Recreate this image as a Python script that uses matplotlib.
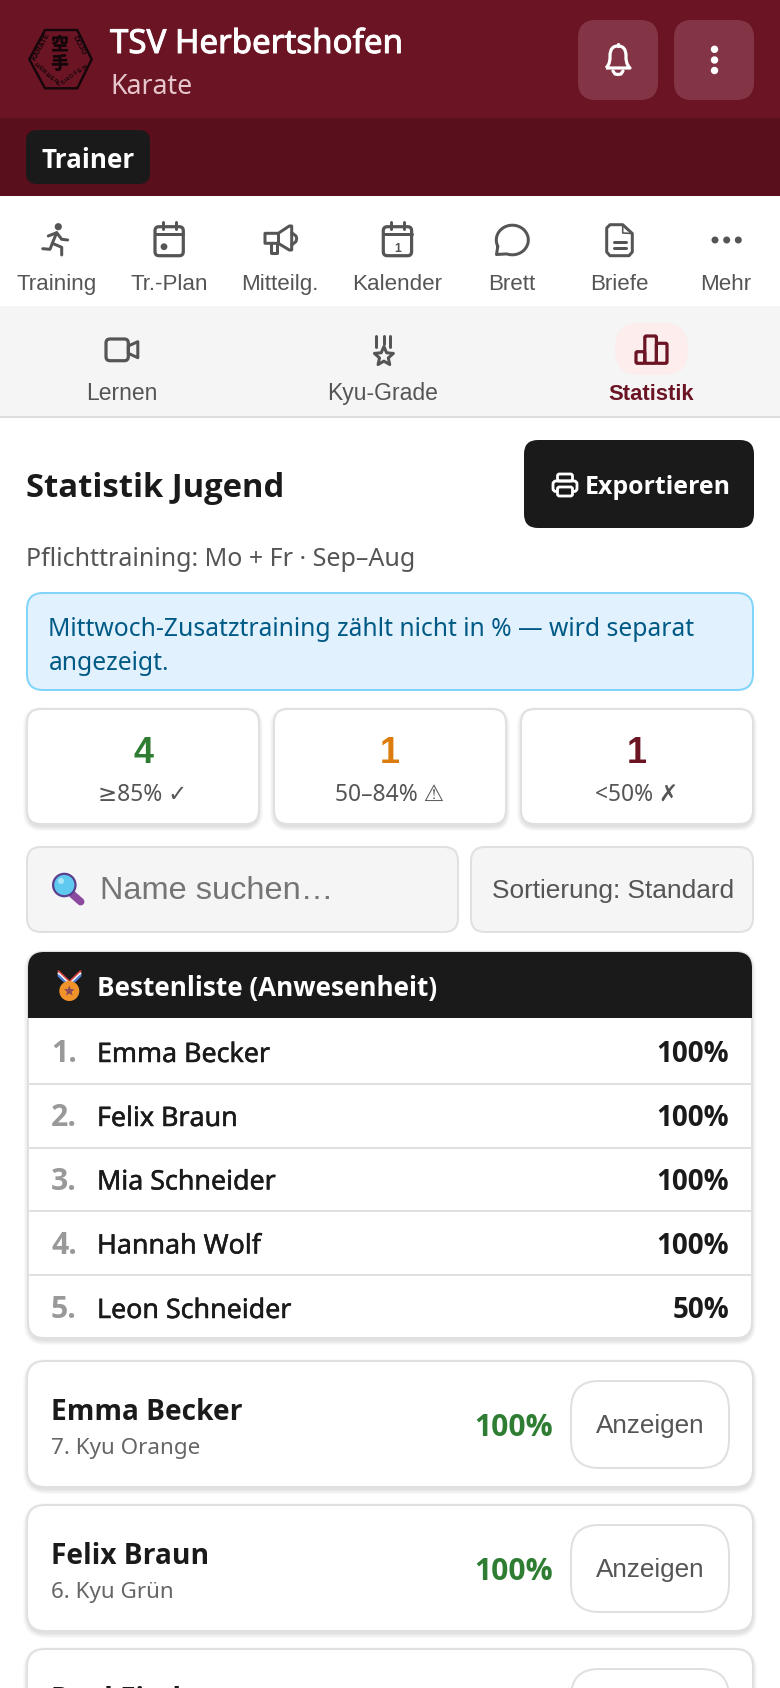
"""Statistik Jugend screen, drawn in pixel coordinates of the 780x1688 screenshot."""
import matplotlib
matplotlib.use("Agg")
import matplotlib.patheffects as pe
import matplotlib.pyplot as plt
import numpy as np
from matplotlib.font_manager import FontProperties
from matplotlib.patches import Circle, FancyBboxPatch, PathPatch, Polygon, Rectangle
from matplotlib.path import Path
from matplotlib.textpath import TextPath

W, H = 780, 1688
SEGOE = ["Noto Sans", "DejaVu Sans"]
SEGOE_B = ["Open Sans", "DejaVu Sans"]
ARIAL = ["Liberation Sans", "DejaVu Sans"]
MAROON = "#6b1524"
GREEN = "#2e7d32"
ORANGE = "#dc7c0c"
INK = "#1a1a1a"
GREY = "#555555"
LINE = "#e0e0e0"
LOGO = "#14060a"

NAV_LABELS = ["Training", "Tr.-Plan", "Mitteilg.", "Kalender", "Brett", "Briefe", "Mehr"]
SUB_LABELS = ["Lernen", "Kyu-Grade", "Statistik"]
STAT_VALUES = ["4", "1", "1"]
STAT_LABELS = ["≥85% ✓", "50–84% ⚠", "<50% ✗"]
STAT_COLORS = [GREEN, ORANGE, MAROON]
BEST_NAMES = ["Emma Becker", "Felix Braun", "Mia Schneider", "Hannah Wolf", "Leon Schneider"]
BEST_PCT = [100, 100, 100, 100, 50]
MEMBER_NAMES = ["Emma Becker", "Felix Braun", "Paul Fischer"]
MEMBER_GRADES = ["7. Kyu Orange", "6. Kyu Grün", ""]
MEMBER_PCT = [100, 100, None]

fig = plt.figure(figsize=(W / 100, H / 100), dpi=100, facecolor="white")
ax = fig.add_axes([0, 0, 1, 1])
ax.set_xlim(0, W)
ax.set_ylim(H, 0)
ax.axis("off")


def px_for(s, family, weight, width):
    """Font size in px that makes s come out width px wide."""
    fp = FontProperties(family=family, weight=weight, size=100)
    return 100 * width / TextPath((0, 0), s, prop=fp).get_extents().width


def txt(x, y, s, px, color=INK, family=SEGOE, weight="normal", ha="left", heavier=0, **kw):
    t = ax.text(x, y, s, fontsize=px * 0.72, color=color, family=family, weight=weight,
                ha=ha, va="baseline", **kw)
    if heavier:
        # no medium cut installed, thicken the regular one a little
        t.set_path_effects([pe.withStroke(linewidth=heavier, foreground=color)])
    return t


def box(x0, y0, x1, y1, r, fc, ec="none", lw=0, z=1):
    p = FancyBboxPatch((x0, y0), x1 - x0, y1 - y0, boxstyle=f"round,pad=0,rounding_size={r}",
                       fc=fc, ec=ec, lw=lw * 0.72, zorder=z)
    ax.add_patch(p)
    return p


def card(x0, y0, x1, y1, r, fc="white", ec=LINE, lw=2):
    for grow in (5, 4, 3, 2, 1):
        box(x0 - grow + 1, y0 + 3 - grow, x1 + grow - 1, y1 + 2 + grow, r + grow, "black", z=0.5).set_alpha(0.022)
    box(x0, y0, x1, y1, r, fc, ec, lw)


def stroke(pts, color=GREY, lw=3, closed=False, fill="none", z=3):
    pts = np.asarray(pts, dtype=float)
    if closed:
        p = Polygon(pts, closed=True, fc=fill, ec=color, lw=lw * 0.72, joinstyle="round", zorder=z)
        ax.add_patch(p)
    else:
        ax.plot(pts[:, 0], pts[:, 1], color=color, lw=lw * 0.72, solid_capstyle="round",
                solid_joinstyle="round", zorder=z)


def dot(x, y, r, color=GREY, z=3):
    ax.add_patch(Circle((x, y), r, fc=color, ec="none", zorder=z))


def star(cx, cy, ro, ri):
    a = np.deg2rad(np.arange(10) * 36 - 90)
    rad = np.where(np.arange(10) % 2 == 0, ro, ri)
    return np.column_stack([cx + rad * np.cos(a), cy + rad * np.sin(a)])


def calendar(dx):
    box(155 + dx, 226.7, 183.3 + dx, 255.7, 4, "none", GREY, 3.2, z=3)
    stroke([(155 + dx, 234), (183.3 + dx, 234)])
    stroke([(162.7 + dx, 222), (162.7 + dx, 229)])
    stroke([(175.7 + dx, 222), (175.7 + dx, 229)])


# header bands
ax.add_patch(Rectangle((0, 0), W, 118, fc=MAROON, ec="none"))
ax.add_patch(Rectangle((0, 118), W, 78, fc="#5a0f1c", ec="none"))
ax.add_patch(Rectangle((0, 306), W, 110, fc="#f5f5f5", ec="none"))
ax.add_patch(Rectangle((0, 416), W, 2, fc="#dddddd", ec="none"))

# logo
stroke([(45, 30), (77.3, 30), (91.7, 59.3), (77.3, 88.3), (45, 88.3), (29.3, 59.3)],
       color=LOGO, lw=2.4, closed=True)
for ch, yy in (("空", 45), ("手", 64)):
    t = ax.text(60, yy, ch, fontsize=12.5, color=LOGO, family=["Noto Sans CJK JP"], weight="bold",
                ha="center", va="center")
    t.set_path_effects([pe.withStroke(linewidth=0.4, foreground=LOGO)])
for s, xy, rot in (("KARATE", (41, 47), 62), ("DOJO", (79, 46), -62)):
    ax.text(xy[0], xy[1], s, fontsize=5.4, color=LOGO, family=ARIAL, weight="bold",
            rotation=rot, ha="center", va="center", rotation_mode="anchor")
letters = "HERBERTSHOFEN"
for k, ch in enumerate(letters):
    t = k / (len(letters) - 1)
    if t < 0.5:
        xy = (36 + (59 - 36) * t * 2, 65 + (85 - 65) * t * 2)
        rot = -42
    else:
        xy = (59 + (85 - 59) * (t - 0.5) * 2, 85 + (67 - 85) * (t - 0.5) * 2)
        rot = 40
    ax.text(xy[0], xy[1], ch, fontsize=4.6, color=LOGO, family=ARIAL, weight="bold",
            rotation=rot, ha="center", va="center")

txt(110, 53, "TSV Herbertshofen", px_for("TSV Herbertshofen", SEGOE, "normal", 290), "white", heavier=0.7)
txt(110, 94, "Karate", px_for("Karate", SEGOE, "normal", 78), "#e6c6cc")

# header buttons
box(578, 20, 658, 100, 18, "#843545")
box(674, 20, 754, 100, 18, "#843545")
bell = Path([(606, 68), (610, 64), (610, 60), (610, 56), (610, 49), (613, 46), (618, 46),
             (623, 46), (626, 49), (626, 56), (626, 60), (626, 64), (630, 68), (606, 68)],
            [1, 4, 4, 4, 4, 4, 4, 4, 4, 4, 4, 4, 4, 2])
ax.add_patch(PathPatch(bell, fc="none", ec="white", lw=3.2 * 0.72, joinstyle="round", zorder=3))
stroke([(618, 44), (618, 46)], "white", 3.2)
stroke([(613, 71), (615, 74), (618, 74.5), (621, 74), (623, 71)], "white", 3.2)
for yy in (49.3, 60, 70.5):
    dot(714.5, yy, 3.7, "white")

# role chip
box(26, 130, 150, 184, 11, INK)
txt(42, 167.7, "Trainer", px_for("Trainer", SEGOE_B, "bold", 92), "white", SEGOE_B, "bold")

# main nav
nav_x = [57, 169, 280, 397, 512, 619, 726]
nav_px = px_for("Training", ARIAL, "normal", 78)
for x, s in zip(nav_x, NAV_LABELS):
    txt(x, 290, s, nav_px, GREY, ARIAL, ha="center")

# runner
dot(58.3, 226.7, 3.6)
stroke([(48.3, 236), (56.7, 232.7), (61.7, 239.3), (67.7, 240)])
stroke([(56.7, 232.7), (52.3, 243.3), (61.7, 247.3), (61.7, 255)])
stroke([(52.3, 243.3), (50, 249.3), (42.7, 248.7)])
calendar(0)
dot(164, 246.7, 3.4)
# megaphone
stroke([(265, 233.3), (278.3, 233.3), (289.3, 226), (291.7, 226), (291.7, 250), (289.3, 250),
        (278.3, 243.3), (265, 243.3)], closed=True)
stroke([(278.3, 233.3), (278.3, 243.3)])
stroke([(270.7, 243.3), (270.7, 253.3), (277.3, 253.3), (277.3, 244)])
stroke([(291.7, 232.7), (296, 236), (296.7, 238.5), (296, 241.5), (291.7, 245)])
calendar(228.3)
txt(397.5, 252, "1", 12, GREY, ARIAL, "bold", ha="center")
# chat bubble
ang = np.deg2rad(np.linspace(155, 470, 60))
bubble = np.column_stack([512.3 + 16 * np.cos(ang), 240 + 14.8 * np.sin(ang)])
stroke(np.vstack([bubble, [(496.5, 254.5)], bubble[:1]]))
# document
stroke([(610, 224.7), (622.7, 224.7), (632.3, 233.5), (632.3, 252), (629, 255.7), (610, 255.7),
        (606.7, 252), (606.7, 228)], closed=True)
stroke([(622.7, 225), (622.7, 233), (632, 233.5)], lw=1.6)
stroke([(613.5, 242.3), (626, 242.3)])
stroke([(613.5, 247.7), (626, 247.7)])
for x in (715, 726.7, 738.3):
    dot(x, 240, 3.5)

# sub nav
box(615, 323, 688, 375, 24, "#fdeded")
sub_x = [122, 383, 651]
sub_px = px_for("Lernen", ARIAL, "normal", 68)
for x, s in zip(sub_x, SUB_LABELS):
    if s == "Statistik":
        txt(x, 400, s, px_for(s, ARIAL, "bold", 85), MAROON, ARIAL, "bold", ha="center")
    else:
        txt(x, 400, s, sub_px, GREY, ARIAL, ha="center")
box(106, 339, 128.3, 360.7, 4, "none", GREY, 3.2, z=3)
stroke([(128.3, 346), (137.8, 341.7), (137.8, 357.7), (128.3, 353.3)], closed=True)
for x, y1 in ((376.3, 346.7), (383.9, 343.5), (390.4, 346.7)):
    stroke([(x, 336), (x, y1)])
stroke(star(383.9, 356.5, 10, 4.6), closed=True)
for x0, y0, x1 in ((636, 351.7, 644.8), (644.8, 336, 656.4), (656.4, 343.3, 667)):
    box(x0, y0, x1, 363.3, 1.5, "none", MAROON, 3.2, z=3)

# heading row
txt(26, 497, "Statistik Jugend", px_for("Statistik Jugend", SEGOE_B, "bold", 254), INK, SEGOE_B, "bold")
box(524, 440, 754, 528, 14, INK)
txt(585, 493.6, "Exportieren", px_for("Exportieren", SEGOE_B, "bold", 142), "white", SEGOE_B, "bold")
box(553, 481, 577, 491.5, 3, "none", "white", 2.8, z=3)
box(557.5, 474, 572.5, 481, 2, "none", "white", 2.8, z=3)
box(557.5, 487, 572.5, 496, 2, INK, "white", 2.8, z=4)
sub_line = "Pflichttraining: Mo + Fr · Sep–Aug"
txt(26, 566, sub_line, px_for(sub_line, SEGOE, "normal", 386), GREY)

# info box
box(27, 593, 753, 690, 16, "#e1f1fd", "#81d4fa", 2)
info1, info2 = "Mittwoch-Zusatztraining zählt nicht in % — wird separat", "angezeigt."
info_px = px_for(info1, SEGOE, "normal", 643)
txt(48.5, 635.5, info1, info_px, "#015a85")
txt(48.5, 670, info2, info_px, "#015a85")

# stat cards
stat_boxes = [(27, 259), (274, 506), (521, 753)]
stat_px = px_for(STAT_LABELS[0], SEGOE, "normal", 83)
for (x0, x1), v, lab, col in zip(stat_boxes, STAT_VALUES, STAT_LABELS, STAT_COLORS):
    card(x0, 709, x1, 824, 14)
    cx = (x0 + x1) / 2
    txt(cx, 763, v, 36, col, ARIAL, "bold", ha="center")
    txt(cx, 801, lab, stat_px, GREY, ha="center")

# search and sort
box(27, 847, 458, 932, 14, "#f5f5f5", LINE, 2)
box(471, 847, 753, 932, 14, "#f5f5f5", LINE, 2)
txt(100, 899, "Name suchen…", px_for("Name suchen…", ARIAL, "normal", 226), "#757575", ARIAL)
txt(492, 898, "Sortierung: Standard", px_for("Sortierung: Standard", ARIAL, "normal", 239), GREY, ARIAL)
stroke([(72.3, 894.3), (80.7, 901.7)], "#8b4a9e", 7.5)
ax.add_patch(Circle((64.3, 885), 11.2, fc="#5fc9ef", ec="#5b3f8e", lw=2.2 * 0.72, zorder=4))
ax.add_patch(Circle((61, 881), 3, fc="#a8e4f7", ec="none", zorder=5))

# leaderboard
card(28, 952, 752, 1338, 16)
box(28, 952, 752, 1000, 16, INK, z=2)
ax.add_patch(Rectangle((28, 975), 724, 43, fc=INK, ec="none", zorder=2))
head = "Bestenliste (Anwesenheit)"
txt(97, 996, head, px_for(head, SEGOE_B, "bold", 338), "white", SEGOE_B, "bold", zorder=3)
for off, col in ((-2.2, "#d8413f"), (0, "#f3f3f3"), (2.2, "#4e7fd6")):
    stroke([(58.5, 973.5 + off), (68.5, 983 + off)], col, 2.2, z=3)
    stroke([(80.5, 973.5 + off), (70.5, 983 + off)], col, 2.2, z=3)
ax.add_patch(Circle((69.3, 991), 10, fc="#f0932b", ec="none", zorder=4))
ax.add_patch(Polygon(star(69.3, 991, 5.5, 2.4), closed=True, fc="#8a4a5a", ec="none", zorder=5))

row_base = [1062, 1126, 1189.5, 1253.5, 1318]
name_px = px_for(BEST_NAMES[0], SEGOE, "normal", 170)
pct_px = px_for("100%", SEGOE_B, "bold", 70)
rank_px = px_for("2.", SEGOE_B, "bold", 23)
for i, (y, name, pct) in enumerate(zip(row_base, BEST_NAMES, BEST_PCT)):
    txt(51, y, f"{i + 1}.", rank_px, "#999999", SEGOE_B, "bold")
    txt(97, y, name, name_px, INK, heavier=0.35)
    txt(729, y, f"{pct}%", pct_px, INK, SEGOE_B, "bold", ha="right")
    if i < 4:
        ax.add_patch(Rectangle((28, y + 20.5), 724, 2, fc=LINE, ec="none", zorder=2))

# member cards
card_top = [1361, 1505, 1649]
member_px = px_for(MEMBER_NAMES[0], SEGOE_B, "bold", 188.5)
grade_px = px_for(MEMBER_GRADES[0], SEGOE, "normal", 147)
mpct_px = px_for("100%", SEGOE_B, "bold", 75.6)
btn_px = px_for("Anzeigen", ARIAL, "normal", 107)
for y, name, grade, pct in zip(card_top, MEMBER_NAMES, MEMBER_GRADES, MEMBER_PCT):
    card(27, y, 753, y + 126, 18)
    box(571, y + 20, 729, y + 107, 28, "white", LINE, 2, z=2)
    txt(51, y + 59.5, name, member_px, INK, SEGOE_B, "bold")
    if pct is None:
        continue
    txt(51, y + 93, grade, grade_px, "#666666")
    txt(553, y + 75, f"{pct}%", mpct_px, GREEN, SEGOE_B, "bold", ha="right")
    txt(650, y + 72, "Anzeigen", btn_px, GREY, ARIAL, ha="center", zorder=3)

fig.savefig("out.png", dpi=100)
